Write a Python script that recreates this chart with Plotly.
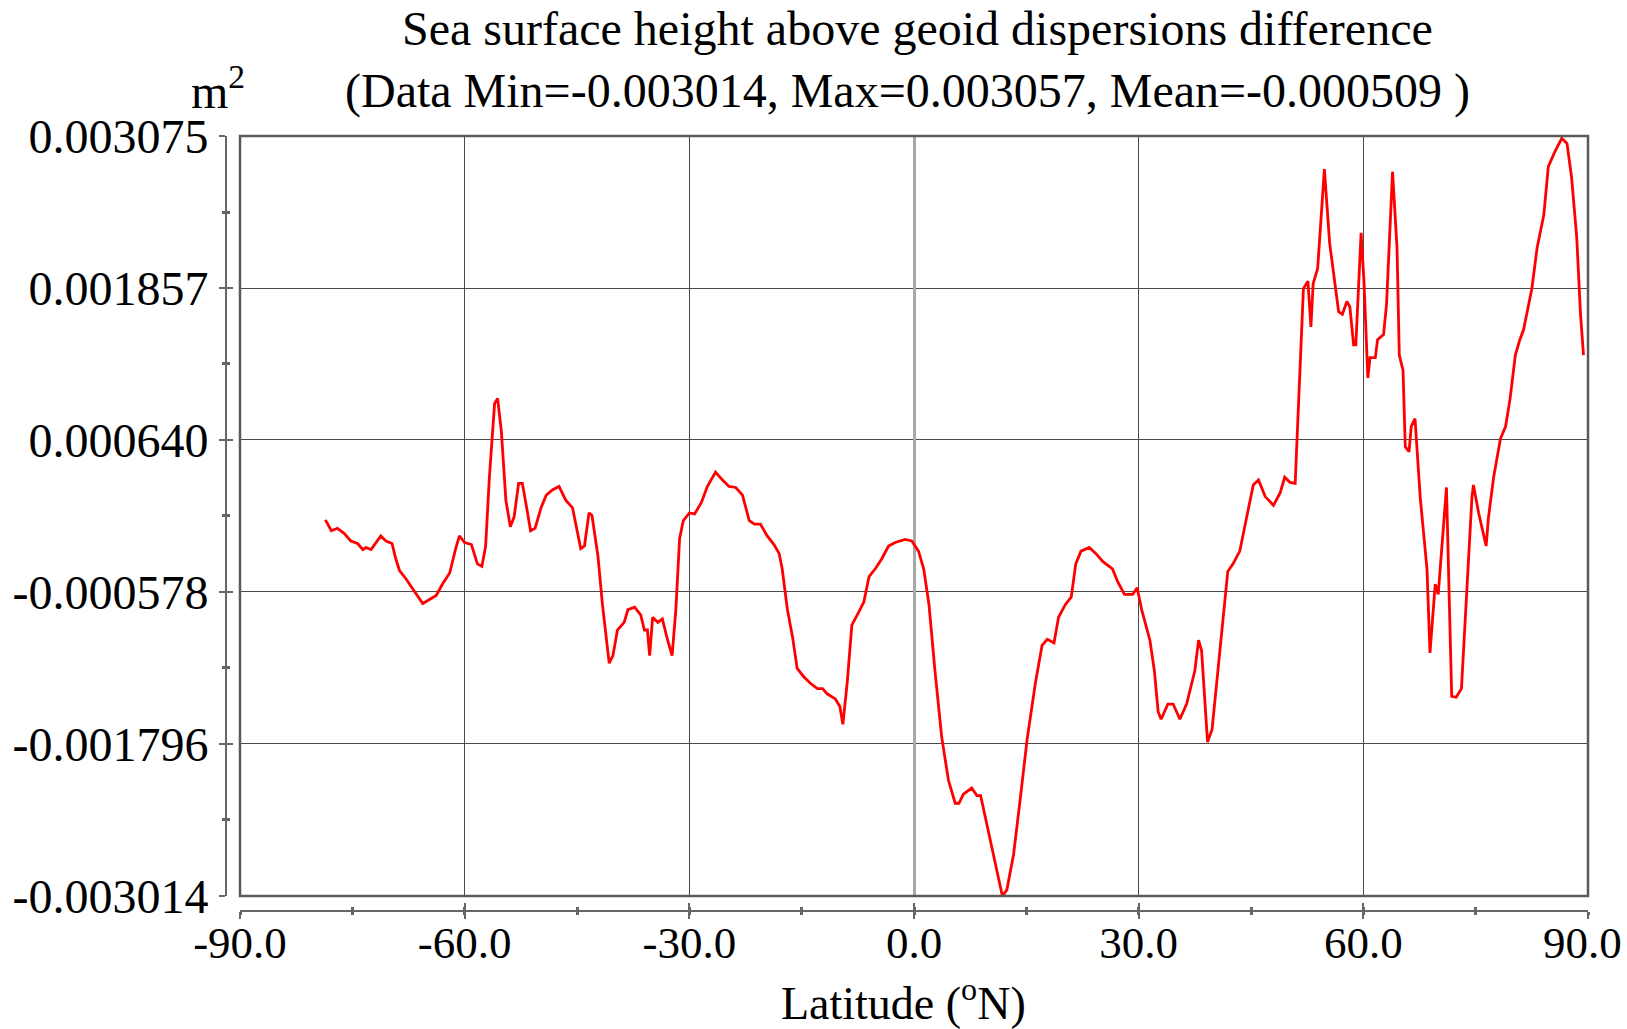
import plotly.graph_objects as go

latitude = [
    -78.6, -77.8, -77.0, -76.1, -75.2, -74.3, -73.6, -73.2, -72.5, -71.8, -71.2, -70.5, -69.7,
    -69.2, -68.7, -67.8, -66.7, -65.6, -64.7, -63.8, -62.9, -62.0, -61.2, -60.7, -60.0, -59.1,
    -58.3, -57.7, -57.2, -56.7, -56.0, -55.6, -55.1, -54.5, -53.9, -53.4, -52.8, -52.3, -51.6,
    -51.2, -50.6, -49.8, -49.1, -48.3, -47.4, -46.5, -45.6, -44.5, -44.0, -43.4, -43.0, -42.2,
    -41.6, -40.7, -40.2, -39.6, -38.7, -38.2, -37.3, -36.5, -36.0, -35.6, -35.3, -34.9, -34.2,
    -33.6, -32.9, -32.3, -31.8, -31.3, -30.8, -30.0, -29.3, -28.4, -27.6, -26.5, -25.6, -24.7,
    -23.8, -22.9, -22.0, -21.3, -20.5, -19.6, -18.7, -18.0, -17.6, -16.9, -16.2, -15.6, -14.7,
    -13.8, -12.9, -12.2, -11.6, -10.5, -9.9, -9.5, -8.9, -8.3, -7.4, -6.7, -6.0, -5.1, -4.3,
    -3.4, -2.5, -1.2, -0.3, 0.6, 1.3, 2.0, 2.8, 3.7, 4.6, 5.5, 6.0, 6.6, 7.7, 8.4, 8.9, 9.7,
    10.6, 11.3, 11.8, 12.4, 13.3, 14.2, 15.1, 16.2, 17.1, 17.8, 18.7, 19.3, 20.2, 21.0, 21.6,
    22.3, 23.4, 24.3, 25.2, 26.5, 27.2, 28.1, 29.2, 29.8, 30.4, 31.5, 32.1, 32.6, 33.0, 33.9,
    34.6, 35.5, 36.4, 37.5, 38.0, 38.4, 39.2, 39.8, 40.6, 41.3, 41.9, 42.6, 43.5, 44.4, 45.3,
    46.0, 46.9, 48.0, 48.9, 49.5, 50.2, 50.9, 51.3, 52.0, 52.6, 53.0, 53.3, 53.9, 54.8, 55.5,
    56.7, 57.2, 57.8, 58.2, 58.7, 59.0, 59.7, 60.1, 60.6, 60.9, 61.6, 61.9, 62.7, 63.1, 63.9,
    64.5, 64.8, 65.3, 65.6, 66.1, 66.4, 66.9, 67.6, 68.5, 68.9, 69.6, 70.0, 71.1, 71.8, 72.4,
    73.1, 73.8, 74.5, 74.7, 75.4, 76.4, 76.7, 77.4, 78.3, 79.0, 79.6, 80.3, 80.9, 81.4, 82.5,
    83.2, 84.1, 84.7, 85.6, 86.5, 87.2, 87.8, 88.5, 89.0, 89.4,
]

dispersion_diff = [
    0.000000, -0.000088, -0.000068, -0.000108, -0.000170, -0.000190, -0.000239, -0.000222,
    -0.000239, -0.000182, -0.000129, -0.000170, -0.000190, -0.000312, -0.000406, -0.000476,
    -0.000578, -0.000671, -0.000639, -0.000606, -0.000508, -0.000426, -0.000231, -0.000129,
    -0.000182, -0.000198, -0.000353, -0.000373, -0.000210, 0.000341, 0.000932, 0.000973,
    0.000708, 0.000157, -0.000055, 0.000022, 0.000292, 0.000292, 0.000055, -0.000088,
    -0.000068, 0.000096, 0.000198, 0.000239, 0.000267, 0.000157, 0.000096, -0.000231,
    -0.000210, 0.000055, 0.000035, -0.000292, -0.000680, -0.001149, -0.001088, -0.000883,
    -0.000822, -0.000720, -0.000700, -0.000761, -0.000883, -0.000883, -0.001088, -0.000781,
    -0.000822, -0.000794, -0.000965, -0.001088, -0.000720, -0.000149, -0.000006, 0.000055,
    0.000047, 0.000137, 0.000267, 0.000382, 0.000320, 0.000267, 0.000259, 0.000198,
    -0.000006, -0.000035, -0.000035, -0.000129, -0.000198, -0.000271, -0.000394, -0.000720,
    -0.000945, -0.001190, -0.001259, -0.001312, -0.001353, -0.001353, -0.001394, -0.001435,
    -0.001496, -0.001639, -0.001292, -0.000843, -0.000741, -0.000659, -0.000455, -0.000386,
    -0.000312, -0.000210, -0.000182, -0.000157, -0.000169, -0.000251, -0.000394, -0.000680,
    -0.001210, -0.001741, -0.002087, -0.002271, -0.002271, -0.002198, -0.002149, -0.002210,
    -0.002210, -0.002434, -0.002659, -0.002863, -0.003014, -0.002965, -0.002679, -0.002230,
    -0.001761, -0.001312, -0.001006, -0.000957, -0.000986, -0.000781, -0.000680, -0.000618,
    -0.000353, -0.000251, -0.000222, -0.000271, -0.000333, -0.000394, -0.000496, -0.000598,
    -0.000598, -0.000545, -0.000720, -0.000965, -0.001210, -0.001537, -0.001598, -0.001476,
    -0.001476, -0.001598, -0.001476, -0.001210, -0.000965, -0.001047, -0.001781, -0.001680,
    -0.001210, -0.000802, -0.000414, -0.000353, -0.000251, 0.000014, 0.000279, 0.000320,
    0.000186, 0.000116, 0.000218, 0.000341, 0.000300, 0.000292, 0.000912, 0.001851,
    0.001912, 0.001545, 0.001892, 0.002014, 0.002810, 0.002218, 0.001667, 0.001647,
    0.001749, 0.001708, 0.001402, 0.001402, 0.002300, 0.001892, 0.001137, 0.001300,
    0.001300, 0.001443, 0.001484, 0.001728, 0.002789, 0.002177, 0.001320, 0.001198,
    0.000586, 0.000545, 0.000749, 0.000810, 0.000177, -0.000394, -0.001067, -0.000516,
    -0.000598, 0.000259, -0.001414, -0.001422, -0.001353, -0.000557, 0.000177, 0.000279,
    0.000055, -0.000210, 0.000014, 0.000341, 0.000647, 0.000749, 0.000973, 0.001320,
    0.001443, 0.001524, 0.001851, 0.002177, 0.002443, 0.002830, 0.002953, 0.003057,
    0.003014, 0.002749, 0.002259, 0.001647, 0.001320,
]

y_tick_values = [-0.003014, -0.001796, -0.000578, 0.000640, 0.001857, 0.003075]
y_tick_labels = ["-0.003014", "-0.001796", "-0.000578", "0.000640", "0.001857", "0.003075"]
y_minor_values = [(a + b) / 2 for a, b in zip(y_tick_values[:-1], y_tick_values[1:])]
x_tick_values = [-90, -60, -30, 0, 30, 60, 90]
x_tick_labels = ["-90.0", "-60.0", "-30.0", "0.0", "30.0", "60.0", "90.0\u00a0"]

title_line1 = "Sea surface height above geoid dispersions difference"
title_line2 = "(Data Min=-0.003014, Max=0.003057, Mean=-0.000509 )"
unit_label = "m<sup>2</sup>"
x_title = "Latitude (<sup>o</sup>N)"

W, H = 1627, 1029
FONT = "Liberation Serif, Times New Roman, serif"
FS = 48
FSX = 45
px = lambda x: x / W
py = lambda y: 1 - y / H

x_dom = [px(240), px(1588)]
y_dom = [py(896), py(136)]
x_rng = [-90, 90]
y_rng = [y_tick_values[0], y_tick_values[-1]]

fig = go.Figure()
fig.add_trace(go.Scatter(x=latitude, y=dispersion_diff, mode="lines",
                         line=dict(color="#ff0000", width=2.8), showlegend=False,
                         xaxis="x", yaxis="y"))

axis_line = "#666666"
fig.update_layout(
    width=W, height=H,
    margin=dict(l=0, r=0, t=0, b=0, autoexpand=False),
    paper_bgcolor="white", plot_bgcolor="white",
    font=dict(family=FONT, size=FS, color="black"),
    xaxis=dict(domain=x_dom, range=x_rng, anchor="free", position=py(911), automargin=False,
               tickmode="array", tickvals=x_tick_values, ticktext=x_tick_labels,
               ticks="inside", ticklen=7, tickwidth=2, tickcolor=axis_line,
               showline=True, linecolor=axis_line, linewidth=2,
               showgrid=True, gridcolor="#4a4a4a", gridwidth=1.2,
               zeroline=True, zerolinecolor="#a8a8a8", zerolinewidth=3,
               minor=dict(ticks="inside", ticklen=3, tickwidth=3, dtick=15, tick0=0,
                          tickcolor=axis_line, showgrid=False),
               tickfont=dict(family=FONT, size=FSX), ticklabelstandoff=-8,
               ticklabeloverflow="allow"),
    yaxis=dict(domain=y_dom, range=y_rng, anchor="free", position=px(226), automargin=False,
               tickmode="array", tickvals=y_tick_values, ticktext=y_tick_labels,
               ticks="outside", ticklen=6, tickwidth=2, tickcolor=axis_line,
               showline=True, linecolor=axis_line, linewidth=2,
               showgrid=True, gridcolor="#4a4a4a", gridwidth=1.2, zeroline=False,
               minor=dict(ticks="outside", ticklen=3, tickwidth=3, tickvals=y_minor_values,
                          tickcolor=axis_line, showgrid=False),
               tickfont=dict(family=FONT, size=FS), ticklabelstandoff=1,
               ticklabeloverflow="allow"),
    xaxis2=dict(domain=x_dom, range=x_rng, anchor="free", position=py(911), overlaying="x",
                automargin=False,
                tickmode="array", tickvals=x_tick_values, ticks="outside", ticklen=7,
                tickwidth=2, tickcolor=axis_line, showticklabels=False, showgrid=False,
                zeroline=False, showline=False,
                minor=dict(ticks="outside", ticklen=3, tickwidth=3, dtick=15, tick0=0,
                           tickcolor=axis_line, showgrid=False)),
    yaxis2=dict(domain=y_dom, range=y_rng, anchor="free", position=px(226), overlaying="y",
                automargin=False,
                tickmode="array", tickvals=y_tick_values, ticks="inside", ticklen=6,
                tickwidth=2, tickcolor=axis_line, showticklabels=False, showgrid=False,
                zeroline=False, showline=False,
                minor=dict(ticks="inside", ticklen=3, tickwidth=3, tickvals=y_minor_values,
                           tickcolor=axis_line, showgrid=False)),
)

# invisible trace to activate the overlay axes
fig.add_trace(go.Scatter(x=[None], y=[None], xaxis="x2", yaxis="y2", showlegend=False,
                         hoverinfo="skip"))

fig.add_shape(type="rect", xref="x domain", yref="y domain", x0=0, x1=1, y0=0, y1=1,
              line=dict(color="#5a5a5a", width=2.5), layer="above")

annotations = [
    dict(text=title_line1, x=px(917), y=py(29), size=FS),
    dict(text=title_line2, x=px(907), y=py(91), size=FS),
    dict(text=unit_label, x=px(218), y=py(88), size=FS),
    dict(text=x_title, x=px(903), y=py(1000), size=46),
]
for a in annotations:
    size = a.pop("size")
    fig.add_annotation(xref="paper", yref="paper", xanchor="center", yanchor="middle",
                       showarrow=False, font=dict(family=FONT, size=size, color="black"), **a)

fig.write_html("out.html")
